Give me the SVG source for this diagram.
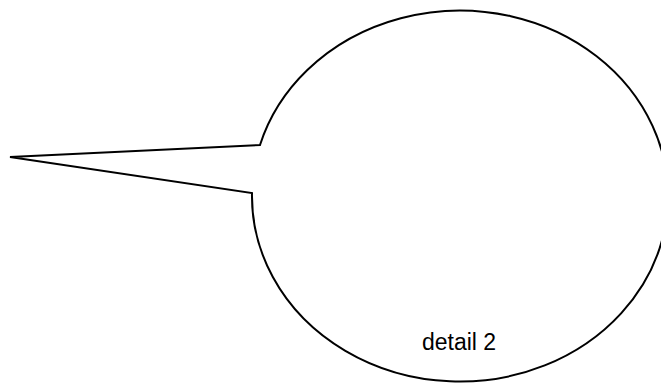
<svg xmlns="http://www.w3.org/2000/svg" width="661" height="386" viewBox="0 0 661 386">
<style>
.shape{fill:#ffffff;stroke:#000000;stroke-width:2;stroke-linejoin:miter}
.label{font-family:"Liberation Sans",Arial,sans-serif;font-size:23px;fill:#000000}
</style>
<rect width="661" height="386" fill="#ffffff"/>
<g id="callout">
<path class="shape" d="M 260,145 A 208,185.5 0 1 1 252,193 L 10,157 Z"/>
<text class="label" x="459" y="350" text-anchor="middle">detail 2</text>
</g>
</svg>
